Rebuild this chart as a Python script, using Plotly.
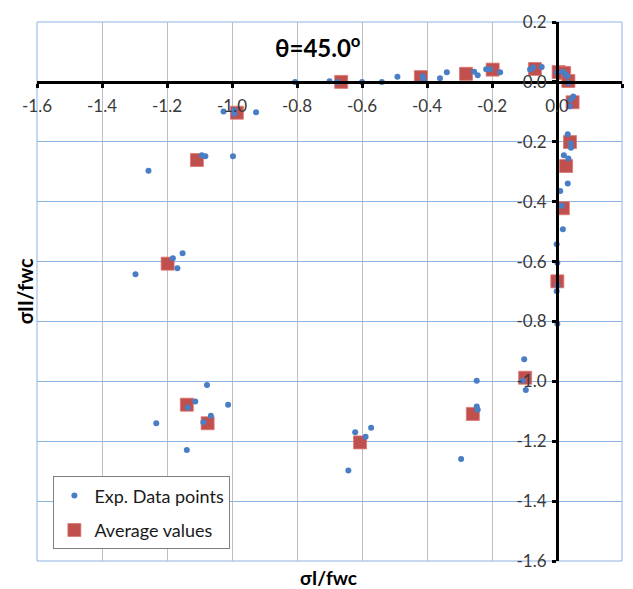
import plotly.graph_objects as go

# Experimental data points (normalised principal stresses)
exp_sigma1 = [
    -0.806, -0.700, -0.677, -0.600, -0.539, -0.491, -0.413, -0.411, -0.360, -0.339,
    -0.255, -0.244, -0.218, -0.206, -0.175, -0.083, -0.073, -0.047, 0.000, 0.018,
    0.025, 0.032, 0.035,
    0.050, 0.042, 0.040, 0.033, 0.042, 0.043, 0.021, 0.035, 0.033, 0.010,
    0.015, 0.018, -0.001, 0.001, 0.002, -0.001, 0.001,
    -0.101, -0.106, -0.096, -0.247, -0.247, -0.244, -0.295,
    -0.621, -0.572, -0.589, -0.642,
    -1.026, -0.993, -0.993, -0.926, -1.093, -1.082, -0.997, -1.257,
    -1.152, -1.182, -1.168, -1.297,
    -1.077, -1.113, -1.136, -1.012, -1.065, -1.088, -1.233, -1.139,
]
exp_sigma2 = [
    0.000, 0.002, 0.000, 0.000, 0.000, 0.017, 0.019, 0.008, 0.012, 0.032,
    0.034, 0.022, 0.042, 0.042, 0.032, 0.041, 0.048, 0.050, 0.032, 0.034,
    0.026, 0.019, -0.004,
    -0.049, -0.060, -0.081, -0.175, -0.206, -0.220, -0.245, -0.256, -0.339, -0.364,
    -0.414, -0.492, -0.542, -0.604, -0.679, -0.699, -0.808,
    -0.926, -0.998, -1.029, -0.998, -1.084, -1.095, -1.259,
    -1.170, -1.155, -1.185, -1.298,
    -0.099, -0.095, -0.106, -0.101, -0.245, -0.248, -0.248, -0.297,
    -0.572, -0.589, -0.622, -0.642,
    -1.012, -1.067, -1.087, -1.078, -1.115, -1.137, -1.140, -1.229,
]

# Average values per loading path
avg_sigma1 = [
    -0.985, -1.108, -1.198, -1.139, -1.075, -0.606, -0.259, -0.098,
    0.001, 0.018, 0.028, 0.040, 0.048,
    -0.664, -0.419, -0.280, -0.198, -0.068, 0.005, 0.022, 0.035,
]
avg_sigma2 = [
    -0.103, -0.261, -0.607, -1.078, -1.140, -1.204, -1.109, -0.988,
    -0.666, -0.422, -0.281, -0.201, -0.068,
    0.000, 0.016, 0.027, 0.041, 0.043, 0.033, 0.030, 0.003,
]

tick_vals = [-1.6, -1.4, -1.2, -1.0, -0.8, -0.6, -0.4, -0.2, 0.0, 0.2]
tick_text = ["-1.6", "-1.4", "-1.2", "-1.0", "-0.8", "-0.6", "-0.4", "-0.2", "0.0", "0.2"]

FONT = "Lato"
AX_MIN, AX_MAX = -1.6, 0.2
cross = (0 - AX_MIN) / (AX_MAX - AX_MIN)

fig = go.Figure()

fig.add_trace(go.Scatter(
    x=avg_sigma1, y=avg_sigma2, mode="markers", name="Average values",
    legendrank=2, legendgroup="avg",
    marker=dict(symbol="square", size=13, color="#C0504D",
                line=dict(color="rgba(220,120,115,0.8)", width=1)),
))
fig.add_trace(go.Scatter(
    x=exp_sigma1, y=exp_sigma2, mode="markers", name="Exp. Data points",
    legendrank=1, legendgroup="exp",
    marker=dict(symbol="circle", size=6, color="#4A7EC4"),
))

axis_common = dict(
    range=[AX_MIN, AX_MAX], tickmode="array", tickvals=tick_vals, ticktext=tick_text,
    showgrid=True, zeroline=False, showline=True, linecolor="black", linewidth=3,
    ticks="outside", ticklen=4, tickwidth=3, tickcolor="black",
    tickfont=dict(family=FONT, size=17, color="#3A3A3A"),
    anchor="free", position=cross, fixedrange=True,
)

fig.update_layout(
    width=633, height=589,
    margin=dict(l=37, r=11, t=19, b=28),
    paper_bgcolor="white", plot_bgcolor="white",
    xaxis=dict(**axis_common, gridcolor="#BEBEBE", gridwidth=1, side="bottom",
               ticklabelstandoff=4),
    yaxis=dict(**axis_common, gridcolor="#8DB3E2", gridwidth=1, side="left",
               ticklabelstandoff=2),
    showlegend=True,
    legend=dict(
        x=0.028, y=0.157, xanchor="left", yanchor="top",
        bgcolor="white", bordercolor="#7F7F7F", borderwidth=1,
        font=dict(family=FONT, size=18, color="#1A1A1A"),
        tracegroupgap=8, itemsizing="trace",
    ),
    shapes=[dict(type="rect", xref="paper", yref="paper", x0=0, y0=0, x1=1, y1=1,
                 line=dict(color="#8DB3E2", width=1), layer="below")],
    annotations=[
        dict(text="<b>θ=45.0<sup>o</sup></b>", xref="paper", yref="paper",
             x=0.48, y=0.956, xanchor="center", yanchor="middle", showarrow=False,
             font=dict(family=FONT, size=24, color="black")),
        dict(text="<b>σI/fwc</b>", xref="paper", yref="paper",
             x=0.499, y=-0.031, xanchor="center", yanchor="middle", showarrow=False,
             font=dict(family=FONT, size=19, color="black")),
        dict(text="<b>σII/fwc</b>", xref="paper", yref="paper",
             x=-0.021, y=0.5, xanchor="center", yanchor="middle",
             textangle=-90, showarrow=False,
             font=dict(family=FONT, size=20, color="black")),
    ],
)

fig.write_html("out.html")
